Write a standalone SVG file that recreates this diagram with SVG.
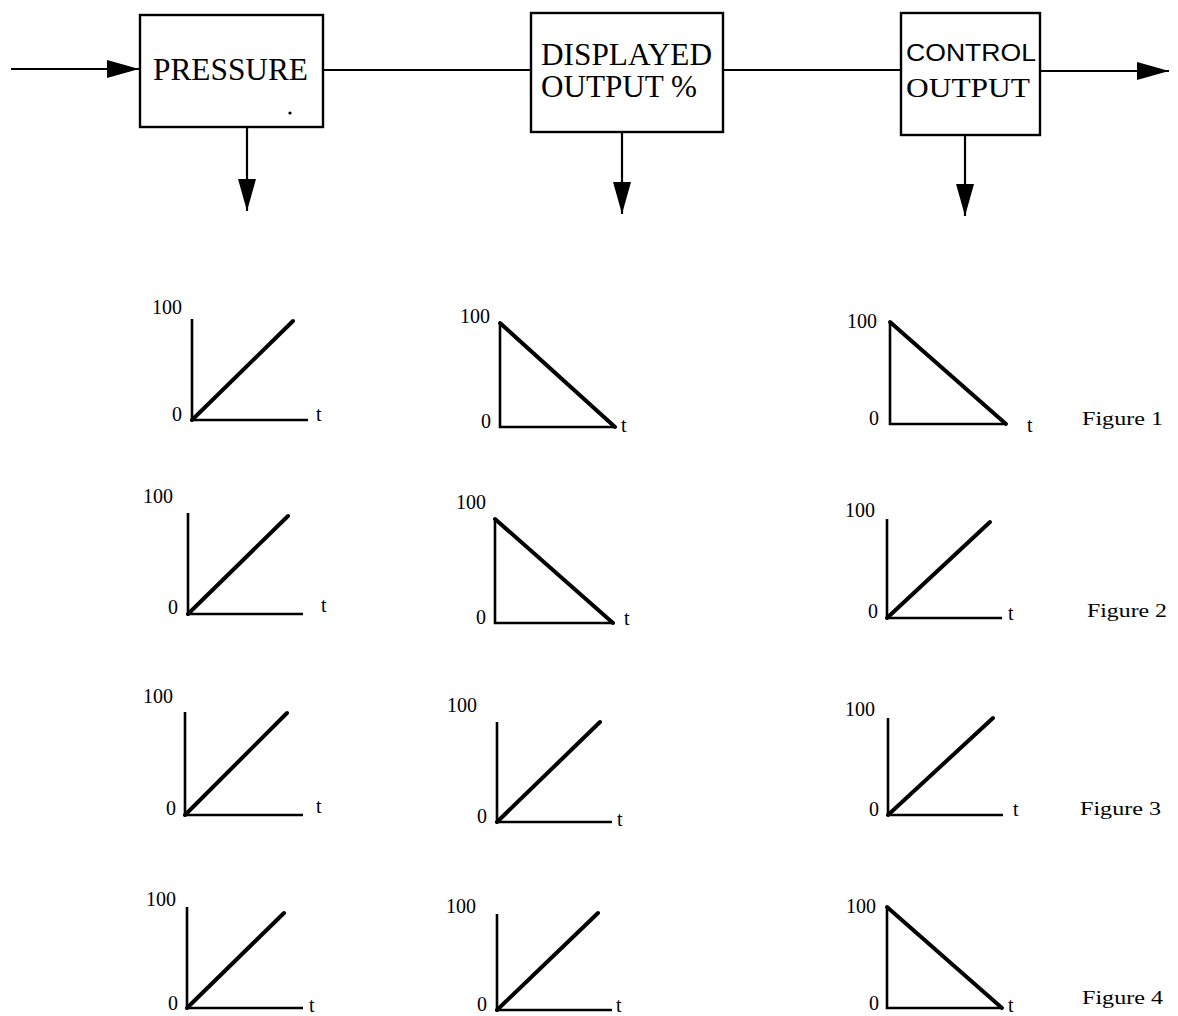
<svg xmlns="http://www.w3.org/2000/svg" width="1178" height="1016" viewBox="0 0 1178 1016">
  <style>
    .box { fill: #fff; stroke: #000; stroke-width: 2.4; }
    .wire { fill: none; stroke: #000; stroke-width: 2.2; }
    .axis { fill: none; stroke: #000; stroke-width: 2.6; stroke-linejoin: miter; }
    .trace { fill: none; stroke: #000; stroke-width: 4; stroke-linecap: round; }
    .lbl { font-family: "Liberation Serif", "Times New Roman", serif; fill: #000; }
    .big { font-size: 31px; }
    .num { font-size: 20px; }
    .fig { font-size: 18px; }
    .sans { font-family: "Liberation Sans", Arial, sans-serif; font-size: 24px; fill: #000; }
  </style>
  <defs>
    <marker id="head" viewBox="0 0 32 18" refX="32" refY="9" markerWidth="32" markerHeight="18" markerUnits="userSpaceOnUse" orient="auto">
      <path d="M0,0 L32,9 L0,18 z" fill="#000"/>
    </marker>
  </defs>

  <rect width="1178" height="1016" fill="#fff"/>

  <!-- signal chain -->
  <g id="connectors">
    <line class="wire" x1="11" y1="69" x2="139" y2="69" marker-end="url(#head)"/>
    <line class="wire" x1="323" y1="70" x2="531" y2="70"/>
    <line class="wire" x1="723" y1="70" x2="901" y2="70"/>
    <line class="wire" x1="1040" y1="71" x2="1169" y2="71" marker-end="url(#head)"/>
    <line class="wire" x1="247" y1="128" x2="247" y2="211" marker-end="url(#head)"/>
    <line class="wire" x1="622" y1="133" x2="622" y2="214" marker-end="url(#head)"/>
    <line class="wire" x1="965" y1="135" x2="965" y2="216" marker-end="url(#head)"/>
  </g>

  <g id="pressure">
    <rect class="box" x="140" y="15" width="183" height="112"/>
    <text class="lbl big" x="153" y="80" textLength="155" lengthAdjust="spacingAndGlyphs">PRESSURE</text>
    <circle cx="290" cy="113" r="1.6" fill="#000"/>
  </g>

  <g id="displayed-output">
    <rect class="box" x="531" y="13" width="192" height="119"/>
    <text class="lbl big" x="541" y="65" textLength="171" lengthAdjust="spacingAndGlyphs">DISPLAYED</text>
    <text class="lbl big" x="541" y="97" textLength="156" lengthAdjust="spacingAndGlyphs">OUTPUT %</text>
  </g>

  <g id="control-output">
    <rect class="box" x="901" y="13" width="139" height="122"/>
    <text class="sans" x="906" y="61" textLength="130" lengthAdjust="spacingAndGlyphs">CONTROL</text>
    <text class="lbl" x="906" y="97" font-size="27" textLength="124" lengthAdjust="spacingAndGlyphs">OUTPUT</text>
  </g>

  <!-- Figure 1 -->
  <g id="fig1-pressure">
    <path class="axis" d="M192,319 V420 H308"/>
    <line class="trace" x1="192" y1="420" x2="293" y2="321"/>
    <text class="lbl num" x="152" y="314">100</text>
    <text class="lbl num" x="172" y="421">0</text>
    <text class="lbl num" x="316" y="421">t</text>
  </g>
  <g id="fig1-displayed">
    <path class="axis" d="M500,323 V427 H615"/>
    <line class="trace" x1="500" y1="323" x2="615" y2="427"/>
    <text class="lbl num" x="460" y="323">100</text>
    <text class="lbl num" x="481" y="428">0</text>
    <text class="lbl num" x="621" y="432">t</text>
  </g>
  <g id="fig1-control">
    <path class="axis" d="M890,322 V424 H1006"/>
    <line class="trace" x1="890" y1="322" x2="1006" y2="424"/>
    <text class="lbl num" x="847" y="328">100</text>
    <text class="lbl num" x="869" y="425">0</text>
    <text class="lbl num" x="1027" y="432">t</text>
    <text class="lbl fig" x="1082" y="425" textLength="81" lengthAdjust="spacingAndGlyphs">Figure 1</text>
  </g>

  <!-- Figure 2 -->
  <g id="fig2-pressure">
    <path class="axis" d="M188,513 V614 H303"/>
    <line class="trace" x1="188" y1="614" x2="288" y2="516"/>
    <text class="lbl num" x="143" y="503">100</text>
    <text class="lbl num" x="168" y="614">0</text>
    <text class="lbl num" x="321" y="612">t</text>
  </g>
  <g id="fig2-displayed">
    <path class="axis" d="M495,519 V623 H613"/>
    <line class="trace" x1="495" y1="519" x2="613" y2="623"/>
    <text class="lbl num" x="456" y="509">100</text>
    <text class="lbl num" x="476" y="624">0</text>
    <text class="lbl num" x="624" y="625">t</text>
  </g>
  <g id="fig2-control">
    <path class="axis" d="M887,519 V618 H1002"/>
    <line class="trace" x1="887" y1="618" x2="990" y2="522"/>
    <text class="lbl num" x="845" y="517">100</text>
    <text class="lbl num" x="868" y="618">0</text>
    <text class="lbl num" x="1008" y="620">t</text>
    <text class="lbl fig" x="1087" y="617" textLength="80" lengthAdjust="spacingAndGlyphs">Figure 2</text>
  </g>

  <!-- Figure 3 -->
  <g id="fig3-pressure">
    <path class="axis" d="M185,712 V815 H303"/>
    <line class="trace" x1="185" y1="815" x2="287" y2="713"/>
    <text class="lbl num" x="143" y="703">100</text>
    <text class="lbl num" x="166" y="815">0</text>
    <text class="lbl num" x="316" y="813">t</text>
  </g>
  <g id="fig3-displayed">
    <path class="axis" d="M497,722 V822 H612"/>
    <line class="trace" x1="497" y1="822" x2="600" y2="722"/>
    <text class="lbl num" x="447" y="712">100</text>
    <text class="lbl num" x="477" y="823">0</text>
    <text class="lbl num" x="617" y="826">t</text>
  </g>
  <g id="fig3-control">
    <path class="axis" d="M888,718 V815 H1003"/>
    <line class="trace" x1="888" y1="815" x2="993" y2="718"/>
    <text class="lbl num" x="845" y="716">100</text>
    <text class="lbl num" x="869" y="816">0</text>
    <text class="lbl num" x="1013" y="816">t</text>
    <text class="lbl fig" x="1080" y="815" textLength="81" lengthAdjust="spacingAndGlyphs">Figure 3</text>
  </g>

  <!-- Figure 4 -->
  <g id="fig4-pressure">
    <path class="axis" d="M187,907 V1008 H303"/>
    <line class="trace" x1="187" y1="1008" x2="284" y2="913"/>
    <text class="lbl num" x="146" y="906">100</text>
    <text class="lbl num" x="168" y="1010">0</text>
    <text class="lbl num" x="309" y="1012">t</text>
  </g>
  <g id="fig4-displayed">
    <path class="axis" d="M497,914 V1010 H612"/>
    <line class="trace" x1="497" y1="1010" x2="598" y2="913"/>
    <text class="lbl num" x="446" y="913">100</text>
    <text class="lbl num" x="477" y="1011">0</text>
    <text class="lbl num" x="616" y="1012">t</text>
  </g>
  <g id="fig4-control">
    <path class="axis" d="M887,907 V1008 H1002"/>
    <line class="trace" x1="887" y1="907" x2="1002" y2="1008"/>
    <text class="lbl num" x="846" y="913">100</text>
    <text class="lbl num" x="869" y="1010">0</text>
    <text class="lbl num" x="1008" y="1012">t</text>
    <text class="lbl fig" x="1082" y="1004" textLength="81" lengthAdjust="spacingAndGlyphs">Figure 4</text>
  </g>
</svg>
